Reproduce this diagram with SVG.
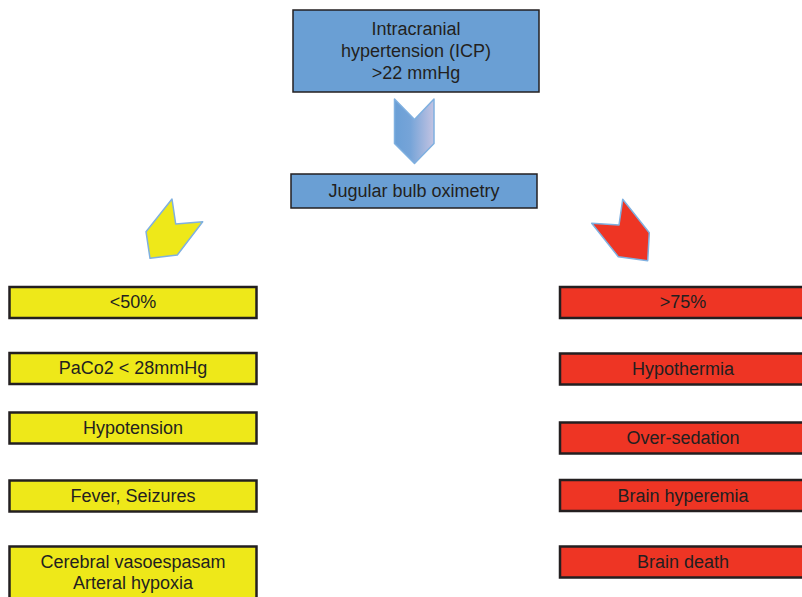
<svg xmlns="http://www.w3.org/2000/svg" width="802" height="597" viewBox="0 0 802 597">
<defs>
<linearGradient id="g" x1="0" y1="0" x2="1" y2="0">
<stop offset="0" stop-color="#6a9fd6"/>
<stop offset="0.4" stop-color="#76a4d8"/>
<stop offset="1" stop-color="#c3c3e2"/>
</linearGradient>
<style>
text{font-family:"Liberation Sans",Arial,sans-serif;font-size:18px;fill:#231f20;text-anchor:middle}
.blue{fill:#6a9fd4;stroke:#231f20;stroke-width:1.5}
.yel{fill:#eee819;stroke:#231f20;stroke-width:2.5}
.red{fill:#ee3524;stroke:#231f20;stroke-width:2.5}
.chev{stroke:#7fb0e0;stroke-width:1.5;stroke-linejoin:round}
</style>
</defs>
<g id="icp">
<rect class="blue" x="293" y="10" width="246" height="82"/>
<text x="416" y="35">Intracranial</text>
<text x="416" y="57">hypertension (ICP)</text>
<text x="416" y="79">&gt;22 mmHg</text>
</g>
<g id="jugular">
<rect class="blue" x="291" y="174" width="246" height="34"/>
<text x="414" y="197">Jugular bulb oximetry</text>
</g>
<g id="connectors">
<polygon class="chev" fill="url(#g)" points="394.5,99 414.5,119.5 434,99 434,143.5 414.5,163.5 394.5,143.5"/>
<polygon class="chev" fill="#eee819" points="172,199 175.7,224 202.7,221.7 177.3,255 150,258.3 146,231.7"/>
<polygon class="chev" fill="#ee3524" stroke-width="2.5" points="622.7,199.3 619,225 591.7,223.3 618.3,256.7 647.7,260.7 649.3,232.7"/>
</g>
<g id="low50">
<rect class="yel" x="9.5" y="287" width="247" height="31"/>
<text x="133" y="307.5">&lt;50%</text>
</g>
<g id="paco2">
<rect class="yel" x="9.5" y="353" width="247" height="31"/>
<text x="133" y="374">PaCo2 &lt; 28mmHg</text>
</g>
<g id="hypotension">
<rect class="yel" x="9.5" y="412.5" width="247" height="31"/>
<text x="133" y="433.5">Hypotension</text>
</g>
<g id="fever">
<rect class="yel" x="9.5" y="480.5" width="247" height="31"/>
<text x="133" y="501.5">Fever, Seizures</text>
</g>
<g id="cerebral">
<rect class="yel" x="9.5" y="546.5" width="247" height="60"/>
<text x="133" y="567.5">Cerebral vasoespasam</text>
<text x="133" y="588.5">Arteral hypoxia</text>
</g>
<g id="high75">
<rect class="red" x="560" y="287" width="248" height="31"/>
<text x="683" y="307.5">&gt;75%</text>
</g>
<g id="hypothermia">
<rect class="red" x="560" y="353.5" width="248" height="31"/>
<text x="683" y="374.5">Hypothermia</text>
</g>
<g id="oversedation">
<rect class="red" x="560" y="422.5" width="248" height="31"/>
<text x="683" y="443.5">Over-sedation</text>
</g>
<g id="hyperemia">
<rect class="red" x="560" y="480" width="248" height="31"/>
<text x="683" y="501.5">Brain hyperemia</text>
</g>
<g id="death">
<rect class="red" x="560" y="546.5" width="248" height="31"/>
<text x="683" y="567.5">Brain death</text>
</g>
</svg>
